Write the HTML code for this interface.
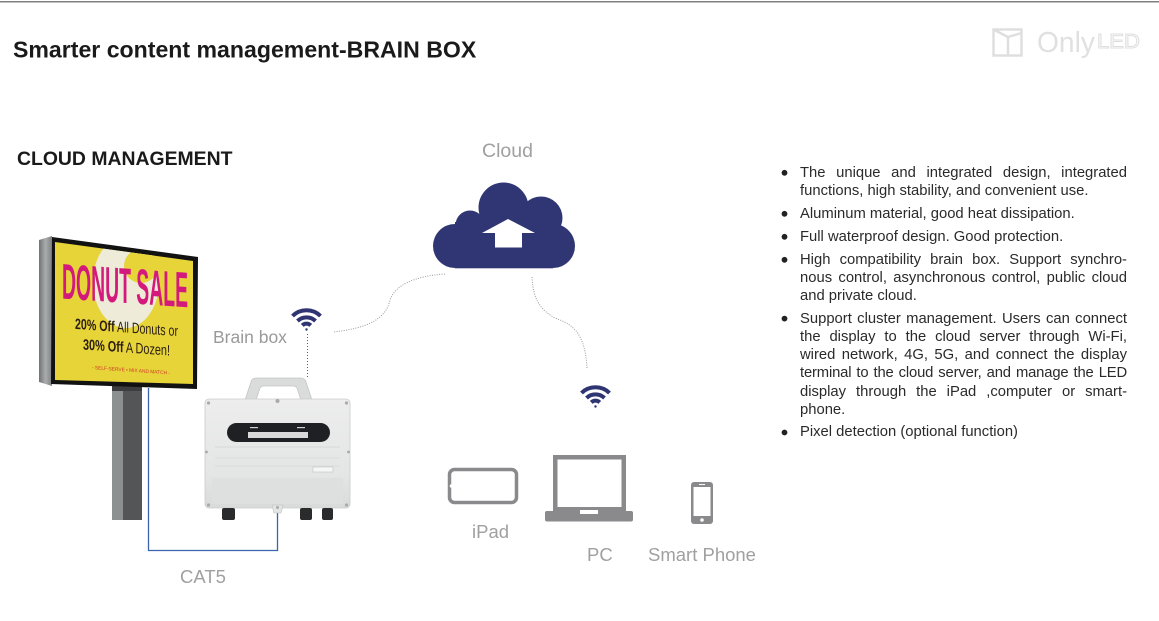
<!DOCTYPE html>
<html><head><meta charset="utf-8">
<style>
html,body{margin:0;padding:0;background:#fff;}
body{width:1159px;height:621px;position:relative;overflow:hidden;font-family:"Liberation Sans",Arial,sans-serif;}
svg{position:absolute;left:0;top:0;}
.l{position:absolute;left:800px;width:327px;font-size:14.8px;line-height:18px;height:18px;color:#2a2a2a;white-space:nowrap;}
.j{text-align:justify;text-align-last:justify;white-space:normal;}
</style></head><body>
<svg width="1159" height="621" viewBox="0 0 1159 621" font-family="Liberation Sans, Arial, sans-serif">
  <defs>
    <linearGradient id="side" x1="0" x2="1" y1="0" y2="0">
      <stop offset="0" stop-color="#6f7375"/><stop offset="0.5" stop-color="#a9adae"/><stop offset="1" stop-color="#7d8183"/>
    </linearGradient>
    <linearGradient id="boxg" x1="0" x2="0" y1="0" y2="1">
      <stop offset="0" stop-color="#ecedec"/><stop offset="0.7" stop-color="#e4e5e5"/><stop offset="1" stop-color="#d9dada"/>
    </linearGradient>
    <clipPath id="scr"><polygon points="55,242 193,261 193,384 55,380"/></clipPath>
  </defs>

  <!-- top rule -->
  <rect x="0" y="1" width="1159" height="1.5" fill="#7f7f7f"/>

  <!-- title -->
  <text x="13" y="57.5" font-size="23.1" font-weight="bold" fill="#1a1a1a">Smarter content management-BRAIN BOX</text>

  <!-- logo -->
  <g fill="none" stroke="#dedede" stroke-width="2.4">
    <rect x="993.5" y="29.5" width="28" height="26"/>
    <path d="M993.5,29.5 L1008,37 L1008,55.5"/>
    <path d="M1008,37 L1021.5,33"/>
  </g>
  <text x="1037" y="52" font-size="29" fill="#e0e0e0" textLength="58" lengthAdjust="spacingAndGlyphs">Only</text>
  <text x="1097" y="48" font-size="20" fill="none" stroke="#dedede" stroke-width="1" textLength="43" lengthAdjust="spacingAndGlyphs">LED</text>

  <!-- CLOUD MANAGEMENT -->
  <text x="17" y="165" font-size="19.4" font-weight="bold" fill="#1a1a1a">CLOUD MANAGEMENT</text>

  <!-- Cloud label -->
  <text x="482" y="157" font-size="19.5" fill="#a0a0a0">Cloud</text>

  <!-- cloud -->
  <g fill="#2f3673">
    <circle cx="455" cy="246" r="22"/>
    <circle cx="553" cy="246" r="22"/>
    <rect x="455" y="222" width="98" height="46.3"/>
    <circle cx="503.5" cy="207.5" r="25"/>
    <circle cx="541" cy="218" r="21.5"/>
    <circle cx="470" cy="225" r="14.5"/>
  </g>
  <polygon points="508,219 535,233 522,233 522,247.5 495,247.5 495,233 482,233" fill="#ffffff"/>

  <!-- dotted connectors -->
  <path d="M445,274 C415,276 395,285 390,300 C386,318 370,328 333,332" fill="none" stroke="#9a9a9a" stroke-width="1" stroke-dasharray="1 1.4"/>
  <path d="M532,277 C533,295 537,308 555,318 C575,325 585,335 587,368" fill="none" stroke="#9a9a9a" stroke-width="1" stroke-dasharray="1 1.4"/>
  <line x1="307.5" y1="334" x2="307.5" y2="377" stroke="#3a64b0" stroke-width="1" stroke-dasharray="1 2"/>

  <!-- wifi icons -->
  <g fill="none" stroke="#2e3572" stroke-width="4" stroke-linecap="butt">
    <g transform="translate(306.5,330)">
      <path d="M-14,-14 A20,20 0 0 1 14,-14"/>
      <path d="M-9,-9 A13,13 0 0 1 9,-9"/>
      <path d="M-4.2,-4.6 A6,6 0 0 1 4.2,-4.6"/>
      <circle cx="0" cy="-0.5" r="1.2" fill="#2e3572" stroke="none"/>
    </g>
    <g transform="translate(595.5,407)">
      <path d="M-14,-14 A20,20 0 0 1 14,-14"/>
      <path d="M-9,-9 A13,13 0 0 1 9,-9"/>
      <path d="M-4.2,-4.6 A6,6 0 0 1 4.2,-4.6"/>
      <circle cx="0" cy="-0.5" r="1.2" fill="#2e3572" stroke="none"/>
    </g>
  </g>

  <!-- Brain box label -->
  <text x="213" y="343" font-size="17.5" fill="#9a9a9a">Brain box</text>

  <!-- Billboard -->
  <polygon points="39,240 52,236 52,386 39,382" fill="url(#side)"/>
  <rect x="112" y="385" width="11" height="135" fill="#8d9091"/>
  <rect x="123" y="385" width="19" height="135" fill="#545557"/>
  <rect x="112" y="385" width="30" height="6" fill="#3c3d3e"/>
  <polygon points="52,237 198,257 197,389 51,384" fill="#121212"/>
  <polygon points="55,242 193,261 193,384 55,380" fill="#e6d438"/>
  <g clip-path="url(#scr)">
    <ellipse cx="126" cy="282" rx="33" ry="46" fill="#eeecd8"/>
    <circle cx="141" cy="266" r="17" fill="#e6d438"/>
  </g>
  <g transform="translate(55,0) skewY(4) translate(-55,0)">
    <text x="125" y="298" font-size="50" font-weight="bold" fill="#d3197c" text-anchor="middle" textLength="126" lengthAdjust="spacingAndGlyphs">DONUT SALE</text>
    <text x="126.5" y="327.5" font-size="15" fill="#2b1d12" text-anchor="middle" textLength="103" lengthAdjust="spacingAndGlyphs"><tspan font-weight="bold">20% Off</tspan> All Donuts or</text>
    <text x="126.5" y="347.5" font-size="15" fill="#2b1d12" text-anchor="middle" textLength="87" lengthAdjust="spacingAndGlyphs"><tspan font-weight="bold">30% Off</tspan> A Dozen!</text>
    <text x="131" y="366.5" font-size="5" fill="#d0392a" text-anchor="middle" textLength="78" lengthAdjust="spacingAndGlyphs">- SELF-SERVE • MIX AND MATCH -</text>
  </g>

  <!-- CAT5 connector -->
  <polyline points="148.5,388 148.5,550.5 277.5,550.5 277.5,511" fill="none" stroke="#3c63ae" stroke-width="1.3"/>
  <text x="180" y="583" font-size="18.5" fill="#a0a0a0">CAT5</text>

  <!-- Brain box device -->
  <path d="M245,400 L251,382 Q252,378 257,378 L300,378 Q305,378 306,382 L312,400 L301,400 L297,388 Q296,386 293,386 L264,386 Q261,386 260,388 L256,400 Z" fill="#dadbdb" stroke="#c4c5c5" stroke-width="0.8"/>
  <rect x="205" y="399" width="145" height="109" rx="4" fill="url(#boxg)" stroke="#cbcccc" stroke-width="0.8"/>
  <rect x="212" y="478" width="131" height="26" fill="#dedfdf"/>
  <line x1="215" y1="447" x2="340" y2="447" stroke="#d3d4d4" stroke-width="0.8"/>
  <line x1="215" y1="458" x2="340" y2="458" stroke="#d6d7d7" stroke-width="0.8"/>
  <line x1="215" y1="466" x2="340" y2="466" stroke="#d6d7d7" stroke-width="0.8"/>
  <rect x="227" y="423" width="103" height="19" rx="9.5" fill="#1f2023"/>
  <rect x="250" y="427" width="8" height="1.2" fill="#cfcfcf"/>
  <rect x="297" y="427" width="8" height="1.2" fill="#cfcfcf"/>
  <rect x="248" y="432" width="60" height="6" fill="#d9d9d9"/>
  <rect x="313" y="467" width="20" height="5" fill="#f6f6f6" stroke="#b9b9b9" stroke-width="0.5"/>
  <g fill="#a9aaaa">
    <circle cx="208.5" cy="403" r="1.6"/><circle cx="346.5" cy="403" r="1.6"/>
    <circle cx="208.5" cy="505" r="1.6"/><circle cx="346.5" cy="505" r="1.6"/>
    <circle cx="206.5" cy="452" r="1.4"/><circle cx="348.5" cy="452" r="1.4"/>
    <circle cx="277.5" cy="401" r="2"/>
  </g>
  <path d="M272,505 L283,505 L281,513 L274,513 Z" fill="#e3e4e4" stroke="#bdbebe" stroke-width="0.6"/>
  <circle cx="277.5" cy="507.5" r="1.5" fill="#a9aaaa"/>
  <g fill="#2a2b2c">
    <rect x="222" y="508" width="13" height="12" rx="2"/>
    <rect x="300" y="508" width="12" height="12" rx="2"/>
    <rect x="322" y="508" width="11" height="12" rx="2"/>
  </g>

  <!-- Devices -->
  <g fill="#8a8a8c">
    <rect x="449.5" y="469.5" width="67" height="33" rx="5" fill="none" stroke="#8a8a8c" stroke-width="3.5"/>
    <circle cx="451.5" cy="486" r="1.8" fill="#ffffff"/>
    <rect x="553" y="455" width="73" height="56"/>
    <rect x="557.5" y="459.5" width="64" height="47.5" fill="#ffffff"/>
    <rect x="545" y="511" width="88" height="10.5" rx="2"/>
    <rect x="580" y="510" width="18" height="4" fill="#ffffff"/>
    <rect x="691" y="482" width="22" height="42" rx="3"/>
    <rect x="693.5" y="487" width="17" height="29" fill="#ffffff"/>
    <circle cx="702" cy="520" r="1.8" fill="#ffffff"/>
    <rect x="699" y="484" width="6" height="1" fill="#ffffff"/>
  </g>
  <text x="472" y="538" font-size="18.5" fill="#a0a0a0">iPad</text>
  <text x="587" y="561" font-size="18.5" fill="#a0a0a0">PC</text>
  <text x="648" y="561" font-size="18.5" fill="#a0a0a0">Smart Phone</text>

  <!-- bullets -->
  <g fill="#222">
    <circle cx="784.5" cy="172.8" r="2.9"/>
    <circle cx="784.5" cy="213.8" r="2.9"/>
    <circle cx="784.5" cy="236.8" r="2.9"/>
    <circle cx="784.5" cy="259.8" r="2.9"/>
    <circle cx="784.5" cy="318.6" r="2.9"/>
    <circle cx="784.5" cy="432.5" r="2.9"/>
  </g>
</svg>

<div class="l j" style="top:163.7px">The unique and integrated design, integrated</div>
<div class="l" style="top:181.9px">functions, high stability, and convenient use.</div>
<div class="l" style="top:204.7px">Aluminum material, good heat dissipation.</div>
<div class="l" style="top:227.7px">Full waterproof design. Good protection.</div>
<div class="l j" style="top:250.7px">High compatibility brain box. Support synchro-</div>
<div class="l j" style="top:269px">nous control, asynchronous control, public cloud</div>
<div class="l" style="top:287.3px">and private cloud.</div>
<div class="l j" style="top:309.5px">Support cluster management. Users can connect</div>
<div class="l j" style="top:327.8px">the display to the cloud server through Wi-Fi,</div>
<div class="l j" style="top:346.1px">wired network, 4G, 5G, and connect the display</div>
<div class="l j" style="top:364.4px;letter-spacing:-0.16px">terminal to the cloud server, and manage the LED</div>
<div class="l j" style="top:382.7px">display through the iPad ,computer or smart-</div>
<div class="l" style="top:401px">phone.</div>
<div class="l" style="top:423.4px">Pixel detection (optional function)</div>
</body></html>
